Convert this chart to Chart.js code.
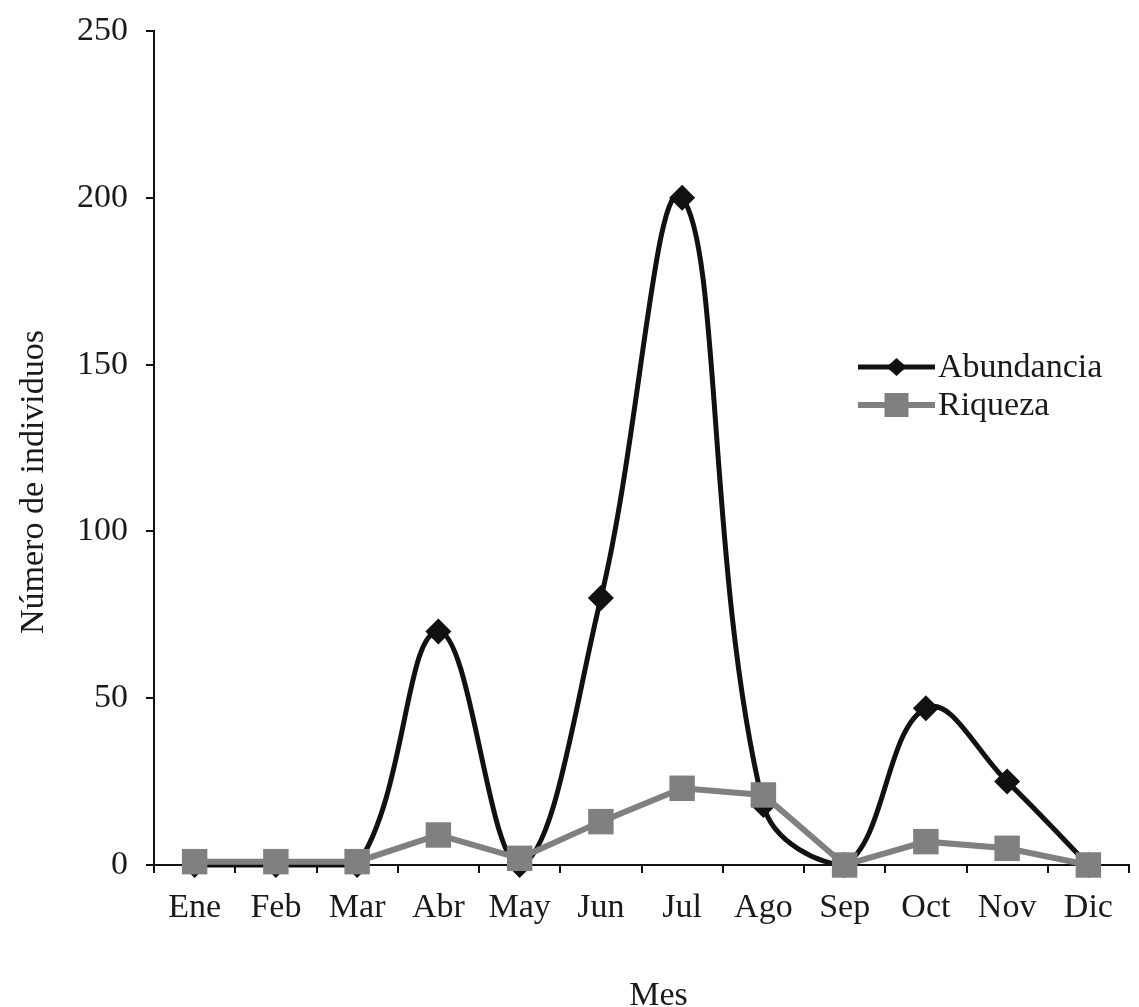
<!DOCTYPE html>
<html>
<head>
<meta charset="utf-8">
<script src="https://cdn.jsdelivr.net/npm/chart.js@4"></script>
<style>
  html, body { margin: 0; padding: 0; background: #fff; overflow: hidden; }
  #wrap { width: 1147px; height: 1007px; }
</style>
</head>
<body>
<div id="wrap"><canvas id="chart"></canvas></div>
<script>
const months = ["Ene", "Feb", "Mar", "Abr", "May", "Jun", "Jul", "Ago", "Sep", "Oct", "Nov", "Dic"];
const abundancia = [0, 0, 0, 70, 0, 80, 200, 18, 0, 47, 25, 0];
const riqueza = [1, 1, 1, 9, 2, 13, 23, 21, 0, 7, 5, 0];
const seriesNames = ["Abundancia", "Riqueza"];

const FONT = "'Liberation Serif', 'DejaVu Serif', serif";
const FS = 34;
const NB = "\u00A0";

// legend drawn inside the plot, like the original
const innerLegend = {
  id: "innerLegend",
  afterDraw(c) {
    const ctx = c.ctx;
    const a = c.chartArea;
    const items = [
      { name: seriesNames[0], color: "#111", width: 5, style: "diamond", y: a.top + 336 },
      { name: seriesNames[1], color: "#808080", width: 6, style: "square", y: a.top + 374 }
    ];
    ctx.save();
    items.forEach(it => {
      const x0 = 858, x1 = 935, xm = (x0 + x1) / 2;
      ctx.strokeStyle = it.color;
      ctx.lineWidth = it.width;
      ctx.beginPath();
      ctx.moveTo(x0, it.y);
      ctx.lineTo(x1, it.y);
      ctx.stroke();
      ctx.fillStyle = it.color;
      if (it.style === "diamond") {
        ctx.beginPath();
        ctx.moveTo(xm - 10, it.y);
        ctx.lineTo(xm, it.y - 9);
        ctx.lineTo(xm + 10, it.y);
        ctx.lineTo(xm, it.y + 9);
        ctx.closePath();
        ctx.fill();
      } else {
        ctx.fillRect(xm - 12, it.y - 12, 24, 24);
      }
      ctx.fillStyle = "#1a1a1a";
      ctx.font = FS + "px " + FONT;
      ctx.textBaseline = "middle";
      ctx.textAlign = "left";
      ctx.fillText(it.name, x1 + 3, it.y + 1);
    });
    ctx.restore();
  }
};

new Chart(document.getElementById("chart"), {
  type: "line",
  data: {
    labels: months,
    datasets: [
      {
        label: seriesNames[0],
        data: abundancia,
        borderColor: "#111",
        backgroundColor: "#111",
        borderWidth: 5,
        tension: 0.4,
        pointStyle: "rectRot",
        pointRadius: 13,
        pointBorderWidth: 0,
        clip: false,
        order: 2
      },
      {
        label: seriesNames[1],
        data: riqueza,
        borderColor: "#808080",
        backgroundColor: "#808080",
        borderWidth: 6,
        tension: 0,
        pointStyle: "rect",
        pointRadius: 18,
        pointBorderWidth: 0,
        clip: false,
        order: 1
      }
    ]
  },
  options: {
    responsive: true,
    maintainAspectRatio: false,
    animation: false,
    layout: { padding: { top: 31, right: 0, left: 0, bottom: 0 } },
    plugins: {
      legend: { display: false },
      tooltip: { enabled: false }
    },
    scales: {
      x: {
        offset: true,
        grid: { offset: true, drawOnChartArea: false, color: "#111", lineWidth: 2, tickLength: 8 },
        border: { color: "#111", width: 2 },
        ticks: { color: "#1a1a1a", font: { family: FONT, size: FS }, padding: 15 },
        title: { display: true, text: NB.repeat(4) + "Mes", color: "#1a1a1a", font: { family: FONT, size: FS }, padding: { top: 0, bottom: -9 } },
        afterFit(s) { s.height = 142; s.paddingLeft = 0; s.paddingRight = 0; }
      },
      y: {
        min: 0,
        max: 250,
        ticks: { stepSize: 50, color: "#1a1a1a", font: { family: FONT, size: FS }, padding: 18 },
        grid: { drawOnChartArea: false, color: "#111", lineWidth: 2, tickLength: 8 },
        border: { color: "#111", width: 2 },
        title: { display: true, text: "Número de individuos" + NB.repeat(8), color: "#1a1a1a", font: { family: FONT, size: FS }, padding: { top: 14, bottom: 0 } },
        afterFit(s) { s.width = 154; s.paddingTop = 0; s.paddingBottom = 0; }
      }
    }
  },
  plugins: [innerLegend]
});
</script>
</body>
</html>
